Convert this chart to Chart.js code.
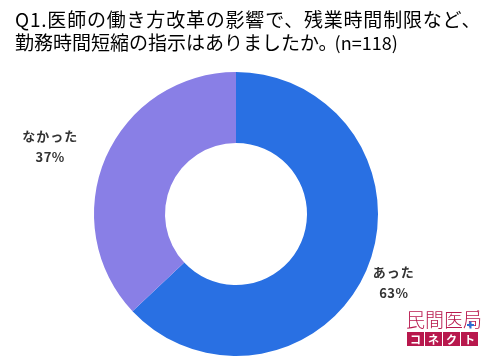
<!DOCTYPE html>
<html><head><meta charset="utf-8">
<script src="https://cdn.jsdelivr.net/npm/chart.js@4/dist/chart.umd.min.js"></script>
<style>html,body{margin:0;padding:0;background:#fff;}#wrap{width:499px;height:364px;position:relative;}</style>
</head><body><div id="wrap"><canvas id="c" width="499" height="364"></canvas></div>
<script>
const titleLines = ['Q1.医師の働き方改革の影響で、残業時間制限など、', '勤務時間短縮の指示はありましたか。', '(n=118)'];
const categories = ['あった', 'なかった'];
const values = [63, 37];
const percentLabels = ['63%', '37%'];
const sliceColors = ['#2970e3', '#897fe6'];
const logoTop = '民間医局';
const logoBottom = ['コ', 'ネ', 'ク', 'ト'];

const FONT = '"Noto Sans CJK JP","Noto Sans",sans-serif';

const overlay = {
  id: 'overlay',
  afterDraw(chart) {
    const ctx = chart.ctx;
    ctx.save();
    // title
    ctx.fillStyle = '#000';
    ctx.font = '400 19px ' + FONT;
    ctx.textAlign = 'left';
    ctx.textBaseline = 'middle';
    ctx.letterSpacing = '0.8px';
    ctx.fillText(titleLines[0], 15, 20);
    ctx.letterSpacing = '0px';
    ctx.fillText(titleLines[1], 15, 43);
    const w1 = ctx.measureText(titleLines[1]).width;
    ctx.font = '400 18px ' + FONT;
    ctx.fillText(titleLines[2], 15 + w1 - 3, 43);
    // labels
    const meta = chart.getDatasetMeta(0);
    meta.data.forEach((arc, i) => {
      const p = arc.getProps(['x','y','startAngle','endAngle','outerRadius'], true);
      const mid = (p.startAngle + p.endAngle) / 2;
      const r = p.outerRadius + 30;
      const x = p.x + Math.cos(mid) * r;
      const y = p.y + Math.sin(mid) * r;
      ctx.fillStyle = '#333';
      ctx.font = '700 13px ' + FONT;
      ctx.letterSpacing = '1px';
      const w = ctx.measureText(categories[i]).width;
      const cx = Math.cos(mid) < 0 ? x - w / 2 : x;
      ctx.textAlign = 'center';
      ctx.fillText(categories[i], cx, y - 10);
      ctx.letterSpacing = '0.5px';
      ctx.font = '600 13px ' + FONT;
      ctx.fillText(percentLabels[i], cx, y + 11);
    });
    ctx.letterSpacing = '0px';
    // logo
    const red = '#b8184d';
    ctx.fillStyle = red;
    ctx.font = '300 19px ' + FONT;
    ctx.textAlign = 'left';
    ctx.fillText(logoTop, 406, 320);
    ctx.fillStyle = '#2b6fd6';
    ctx.fillRect(467, 324, 7, 2);
    ctx.fillRect(469.5, 321.5, 2, 7);
    ctx.fillStyle = red;
    ctx.font = '400 5px ' + FONT;
    ctx.fillText('®', 477, 312);
    logoBottom.forEach((ch, i) => {
      const bx = 407 + i * 18;
      ctx.fillStyle = red;
      ctx.fillRect(bx, 332, 17, 14);
      ctx.fillStyle = '#fff';
      ctx.font = '700 11px ' + FONT;
      ctx.textAlign = 'center';
      ctx.fillText(ch, bx + 8.5, 339.5);
    });
    ctx.restore();
  }
};

new Chart(document.getElementById('c'), {
  type: 'doughnut',
  data: { labels: categories, datasets: [{ data: values, backgroundColor: sliceColors, borderWidth: 0 }] },
  options: {
    responsive: false,
    animation: false,
    cutout: '50%',
    layout: { padding: { top: 72, bottom: 8, left: 0, right: 27 } },
    plugins: { legend: { display: false }, tooltip: { enabled: false }, title: { display: false } }
  },
  plugins: [overlay]
});
</script></body></html>
